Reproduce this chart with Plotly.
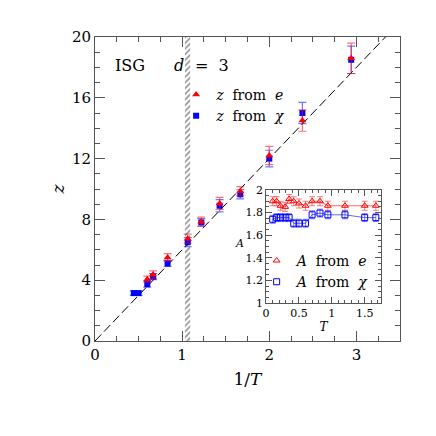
import plotly.graph_objects as go

# main panel: z vs 1/T
inv_t_e = [0.6, 0.667, 0.833, 1.064, 1.22, 1.43, 1.667, 2.0, 2.38, 2.94]
z_e = [4.07, 4.37, 5.5, 6.73, 7.85, 9.05, 9.85, 12.2, 14.5, 18.6]
z_e_err = [0.2, 0.25, 0.25, 0.3, 0.3, 0.4, 0.3, 0.6, 0.7, 1.0]

inv_t_chi = [0.445, 0.5, 0.6, 0.667, 0.833, 1.064, 1.22, 1.43, 1.667, 2.0, 2.38, 2.94]
z_chi = [3.15, 3.15, 3.74, 4.24, 5.1, 6.5, 7.8, 8.9, 9.65, 12.0, 15.0, 18.5]
z_chi_err = [0.15, 0.15, 0.2, 0.2, 0.2, 0.3, 0.25, 0.4, 0.3, 0.55, 0.7, 0.9]

# dashed guide z = 6/T and the hatched Tc band
guide_x = [0, 3.5]
guide_slope = 6.0
tc_inv = 1.062
tc_width = 0.06

# inset: A vs T
t_inset = [0.1, 0.16, 0.22, 0.29, 0.35, 0.42, 0.5, 0.6, 0.7, 0.82, 0.94, 1.2, 1.5, 1.67]
a_e = [1.90, 1.90, 1.86, 1.85, 1.92, 1.90, 1.88, 1.86, 1.90, 1.90, 1.86, 1.86, 1.86, 1.86]
a_e_err = [0.04] * 14
a_chi = [1.74, 1.755, 1.755, 1.755, 1.755, 1.705, 1.705, 1.705, 1.78, 1.795, 1.78, 1.78, 1.755, 1.755]
a_chi_err = [0.035] * 14

RED = '#ff0000'
BLUE = '#0000ff'
FONT = 'DejaVu Serif'
SP = '\u00a0'

fig = go.Figure()

# hatched band at 1/Tc
fig.add_trace(go.Bar(
    x=[tc_inv], y=[20], width=[tc_width],
    marker=dict(color='white', line=dict(width=0),
                pattern=dict(shape='/', fgcolor='black', bgcolor='white', size=4, solidity=0.35)),
    showlegend=False, hoverinfo='skip'
))

fig.add_trace(go.Scatter(
    x=guide_x, y=[guide_slope * v for v in guide_x],
    mode='lines', line=dict(color='black', width=1, dash='9px,4px'),
    showlegend=False, hoverinfo='skip'
))

fig.add_trace(go.Scatter(
    x=inv_t_chi, y=z_chi, mode='markers', name=f'<i>z</i>{SP*2}from{SP*2}<i>χ</i>',
    marker=dict(symbol='square', color=BLUE, size=6),
    error_y=dict(array=z_chi_err, color='rgba(0,0,255,0.55)', thickness=1.2, width=4),
    legendrank=2
))

fig.add_trace(go.Scatter(
    x=inv_t_e, y=z_e, mode='markers', name=f'<i>z</i>{SP*2}from{SP*2}<i>e</i>',
    marker=dict(symbol='triangle-up', color=RED, size=7),
    error_y=dict(array=z_e_err, color='rgba(255,0,0,0.55)', thickness=1.2, width=4),
    legendrank=1
))

# inset traces
fig.add_trace(go.Scatter(
    x=t_inset, y=a_e, mode='lines', line=dict(color='rgba(255,0,0,0.6)', width=1),
    xaxis='x2', yaxis='y2', showlegend=False, hoverinfo='skip'
))
fig.add_trace(go.Scatter(
    x=t_inset, y=a_chi, mode='lines', line=dict(color='rgba(0,0,255,0.6)', width=1),
    xaxis='x2', yaxis='y2', showlegend=False, hoverinfo='skip'
))
fig.add_trace(go.Scatter(
    x=t_inset, y=a_e, mode='markers', name=f'<i>A</i>{SP*2}from{SP*2}<i>e</i>',
    marker=dict(symbol='triangle-up-open', color=RED, size=6),
    error_y=dict(array=a_e_err, color='rgba(255,0,0,0.5)', thickness=1, width=3),
    xaxis='x2', yaxis='y2', legend='legend2', legendrank=1
))
fig.add_trace(go.Scatter(
    x=t_inset, y=a_chi, mode='markers', name=f'<i>A</i>{SP*2}from{SP*2}<i>χ</i>',
    marker=dict(symbol='square-open', color=BLUE, size=6),
    error_y=dict(array=a_chi_err, color='rgba(0,0,255,0.5)', thickness=1, width=3),
    xaxis='x2', yaxis='y2', legend='legend2', legendrank=2
))

axis_common = dict(
    showline=True, linecolor='#555', linewidth=1, mirror='ticks',
    ticks='inside', tickcolor='#555', showgrid=False, zeroline=False,
)

fig.update_layout(
    width=436, height=436,
    margin=dict(l=87, r=44, t=29, b=103),
    paper_bgcolor='white', plot_bgcolor='white',
    font=dict(family=FONT, size=15, color='black'),
    barmode='overlay',
    xaxis=dict(
        range=[0, 3.5], tickvals=[0, 1, 2, 3], ticklen=10,
        minor=dict(dtick=0.25, ticklen=5, ticks='inside', tickcolor='#555'),
        title=dict(text='1/<i>T</i>', font=dict(size=17), standoff=10),
        **axis_common
    ),
    yaxis=dict(
        range=[0, 20], tickvals=[0, 4, 8, 12, 16, 20], ticklen=10,
        minor=dict(dtick=1, ticklen=5, ticks='inside', tickcolor='#555'),
        title=dict(text='<i>z</i>', font=dict(size=17), standoff=2),
        **axis_common
    ),
    xaxis2=dict(
        domain=[0.561, 0.938], anchor='y2', range=[0, 1.75],
        tickvals=[0, 0.5, 1, 1.5], ticktext=['0', '0.5', '1', '1.5'], ticklen=6,
        minor=dict(dtick=0.1, ticklen=3, ticks='inside', tickcolor='#555'),
        tickfont=dict(size=11),
        title=dict(text='<i>T</i>', font=dict(size=12), standoff=2),
        **axis_common
    ),
    yaxis2=dict(
        domain=[0.125, 0.497], anchor='x2', range=[1, 2],
        tickvals=[1, 1.2, 1.4, 1.6, 1.8, 2], ticktext=['1', '1.2', '1.4', '1.6', '1.8', '2'],
        ticklen=6,
        minor=dict(dtick=0.05, ticklen=3, ticks='inside', tickcolor='#555'),
        tickfont=dict(size=11),
        **axis_common
    ),
    legend=dict(
        x=0.266, y=0.862, xanchor='left', yanchor='top',
        bgcolor='rgba(0,0,0,0)', font=dict(size=14), itemwidth=30
    ),
    legend2=dict(
        x=0.53, y=0.316, xanchor='left', yanchor='top',
        bgcolor='rgba(0,0,0,0)', font=dict(size=14), itemwidth=30
    ),
    annotations=[
        dict(x=0.40, y=18.15, xref='x', yref='y', text='ISG', showarrow=False,
             font=dict(size=16)),
        dict(x=0.963, y=18.15, xref='x', yref='y', text='<i>d</i>', showarrow=False,
             font=dict(size=16)),
        dict(x=1.347, y=18.15, xref='x', yref='y', text=f'={SP*2}3', showarrow=False,
             font=dict(size=16)),
        dict(x=-0.285, y=0.53, xref='x2 domain', yref='y2 domain', text='<i>A</i>',
             showarrow=False, font=dict(size=11)),
    ],
)

fig.write_html('out.html')
